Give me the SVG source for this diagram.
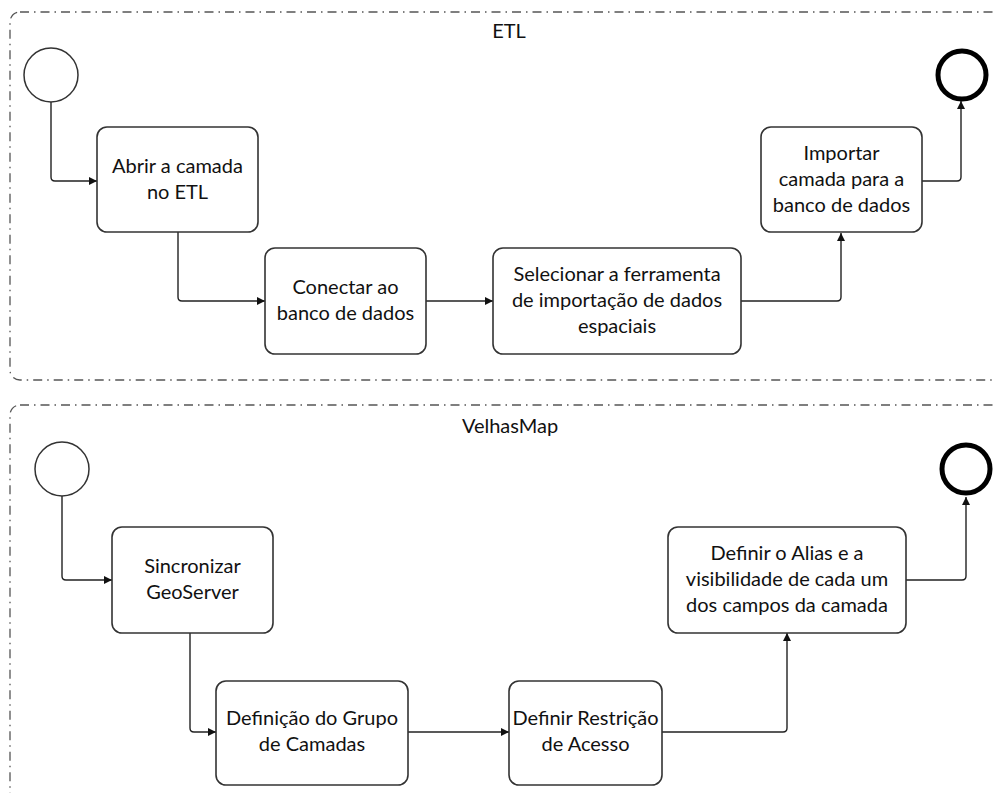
<svg xmlns="http://www.w3.org/2000/svg" width="995" height="793" viewBox="0 0 995 793">
<defs>
<marker id="arr" viewBox="0 0 10 10" refX="10" refY="5" markerWidth="8" markerHeight="8" markerUnits="userSpaceOnUse" orient="auto">
<path d="M0,0 L10,5 L0,10 z" fill="#111"/>
</marker>
<style>
.pool{fill:none;stroke:#555;stroke-width:1.3;stroke-dasharray:9 5 1.5 5}
.box{fill:#fff;stroke:#333;stroke-width:1.6}
.start{fill:#fff;stroke:#333;stroke-width:1.5}
.end{fill:#fff;stroke:#000;stroke-width:5}
.t{font-family:Lato,"Liberation Sans",sans-serif;font-size:20px;fill:#111;text-anchor:middle}
.c{fill:none;stroke:#222;stroke-width:1.4;marker-end:url(#arr)}
</style>
</defs>
<rect width="995" height="793" fill="#fff"/>

<g id="pool-etl">
<rect class="pool" x="10" y="12" width="1010" height="368" rx="10"/>
<text class="t" x="509" y="38">ETL</text>
</g>
<g id="pool-velhasmap">
<rect class="pool" x="10" y="405" width="1010" height="430" rx="10"/>
<text class="t" x="510" y="433">VelhasMap</text>
</g>

<g id="connectors">
<path class="c" d="M51,102 V177 Q51,181 55,181 H97"/>
<path class="c" d="M178,232 V297 Q178,301 182,301 H265"/>
<path class="c" d="M426,301 H493"/>
<path class="c" d="M741,301 H837 Q841,301 841,297 V233"/>
<path class="c" d="M922,181 H957 Q961,181 961,177 V101"/>

<path class="c" d="M62,496 V576 Q62,580 66,580 H112"/>
<path class="c" d="M190,633 V728 Q190,732 194,732 H216"/>
<path class="c" d="M408,732 H509"/>
<path class="c" d="M662,732 H783 Q787,732 787,728 V633"/>
<path class="c" d="M906,580 H962 Q966,580 966,576 V497"/>
</g>

<g id="start-etl"><circle class="start" cx="51" cy="75" r="27"/></g>
<g id="task-abrir">
<rect class="box" x="97" y="127" width="161" height="105" rx="10"/>
<text class="t" x="177.5" y="173">Abrir a camada</text>
<text class="t" x="177.5" y="199">no ETL</text>
</g>
<g id="task-conectar">
<rect class="box" x="265" y="248" width="161" height="106" rx="10"/>
<text class="t" x="345.5" y="294">Conectar ao</text>
<text class="t" x="345.5" y="320">banco de dados</text>
</g>
<g id="task-selecionar">
<rect class="box" x="493" y="248" width="248" height="106" rx="10"/>
<text class="t" x="617" y="281">Selecionar a ferramenta</text>
<text class="t" x="617" y="307">de importação de dados</text>
<text class="t" x="617" y="333">espaciais</text>
</g>
<g id="task-importar">
<rect class="box" x="761" y="127" width="161" height="105" rx="10"/>
<text class="t" x="841.5" y="160">Importar</text>
<text class="t" x="841.5" y="186">camada para a</text>
<text class="t" x="841.5" y="212">banco de dados</text>
</g>
<g id="end-etl"><circle class="end" cx="962" cy="75" r="24"/></g>

<g id="start-velhasmap"><circle class="start" cx="62" cy="469" r="27"/></g>
<g id="task-sincronizar">
<rect class="box" x="112" y="527" width="161" height="106" rx="10"/>
<text class="t" x="192.5" y="573">Sincronizar</text>
<text class="t" x="192.5" y="599">GeoServer</text>
</g>
<g id="task-grupo">
<rect class="box" x="216" y="681" width="192" height="104" rx="10"/>
<text class="t" x="312" y="725">Definição do Grupo</text>
<text class="t" x="312" y="751">de Camadas</text>
</g>
<g id="task-restricao">
<rect class="box" x="509" y="681" width="153" height="104" rx="10"/>
<text class="t" x="585.5" y="725">Definir Restrição</text>
<text class="t" x="585.5" y="751">de Acesso</text>
</g>
<g id="task-alias">
<rect class="box" x="668" y="527" width="238" height="106" rx="10"/>
<text class="t" x="787" y="560">Definir o Alias e a</text>
<text class="t" x="787" y="586">visibilidade de cada um</text>
<text class="t" x="787" y="612">dos campos da camada</text>
</g>
<g id="end-velhasmap"><circle class="end" cx="966" cy="469" r="24"/></g>
</svg>
